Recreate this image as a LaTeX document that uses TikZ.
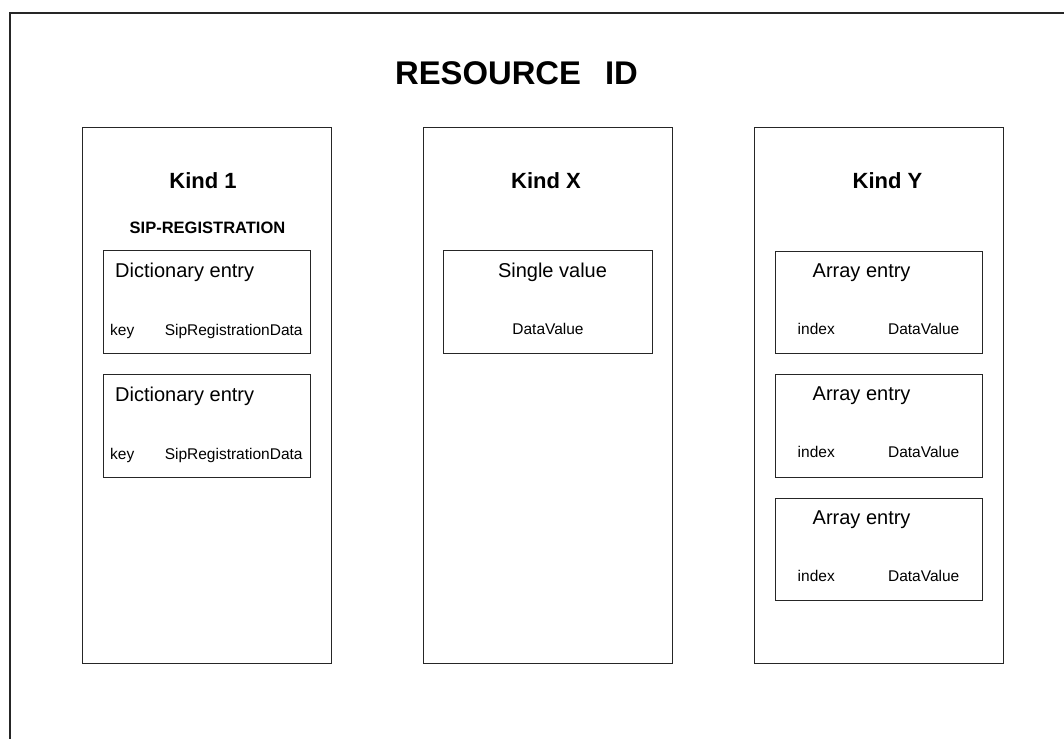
\documentclass[tikz,border=0pt]{standalone}
\usepackage{fontspec}
\setmainfont{Liberation Sans}
\newcommand\setpx[1]{\fontsize{#1}{#1}\selectfont}
\begin{document}
\begin{tikzpicture}[x=1pt,y=-1pt,
  frame/.style={draw=black!85,line width=1.6pt},
  kindbox/.style={draw=black!85,line width=1.1pt,anchor=north west,inner sep=0pt},
  entrybox/.style={draw=black!85,line width=1.1pt,anchor=north west,inner sep=0pt,
                   minimum height=103.3pt},
  txt/.style={inner sep=0pt,text=black},
  headline/.style={txt,anchor=base,font=\bfseries\setpx{32.8}},
  kindtitle/.style={txt,anchor=base,font=\bfseries\setpx{22}},
  kindsub/.style={txt,anchor=base,font=\bfseries\setpx{16.5}},
  entrytitle/.style={txt,font=\setpx{20}},
  field/.style={txt,font=\setpx{15.5}}]
\useasboundingbox (0,0) rectangle (1064,738);
\clip (0,0) rectangle (1064,738);

% outer frame (runs past the right and bottom edges)
\draw[frame] (10,13) rectangle (1100,780);

% title
\node[headline] (title) at (516.5,84.3) {RESOURCE\hspace{24pt}ID};

% the three kind columns
\node[kindbox,minimum width=248.7pt,minimum height=536pt] (k1) at (82.3,126.7) {};
\node[kindbox,minimum width=248.4pt,minimum height=536pt] (kx) at (423.3,126.7) {};
\node[kindbox,minimum width=248.7pt,minimum height=536pt] (ky) at (754.3,126.7) {};

\node[kindtitle] (k1t) at (203,188) {Kind 1};
\node[kindtitle] (kxt) at (546,188) {Kind X};
\node[kindtitle] (kyt) at (887.5,188) {Kind Y};
\node[kindsub] (k1s) at (207.5,233.3) {SIP-REGISTRATION};

% Kind 1: dictionary entries
\foreach \i/\t in {1/250,2/374}{
  \node[entrybox,minimum width=207.3pt] (d\i) at (102.7,\t) {};
  \node[entrytitle,anchor=base west] (d\i t) at (115,\t+27.7) {Dictionary entry};
  \node[field,anchor=base west] (d\i k) at (110,\t+85) {key};
  \node[field,anchor=base east] (d\i v) at (302.8,\t+85) {SipRegistrationData};
}

% Kind X: single value
\node[entrybox,minimum width=208.4pt] (s1) at (443.3,250) {};
\node[entrytitle,anchor=base] (s1t) at (552.5,277) {Single value};
\node[field,anchor=base] (s1v) at (548,334) {DataValue};

% Kind Y: array entries
\foreach \i/\t in {1/250.7,2/374.3,3/497.7}{
  \node[entrybox,minimum width=207pt,minimum height=102.6pt] (a\i) at (775,\t) {};
  \node[entrytitle,anchor=base west] (a\i t) at (812.5,\t+26.3) {Array entry};
  \node[field,anchor=base west] (a\i k) at (797.5,\t+83.3) {index};
  \node[field,anchor=base east] (a\i v) at (959.5,\t+83.3) {DataValue};
}
\end{tikzpicture}
\end{document}
